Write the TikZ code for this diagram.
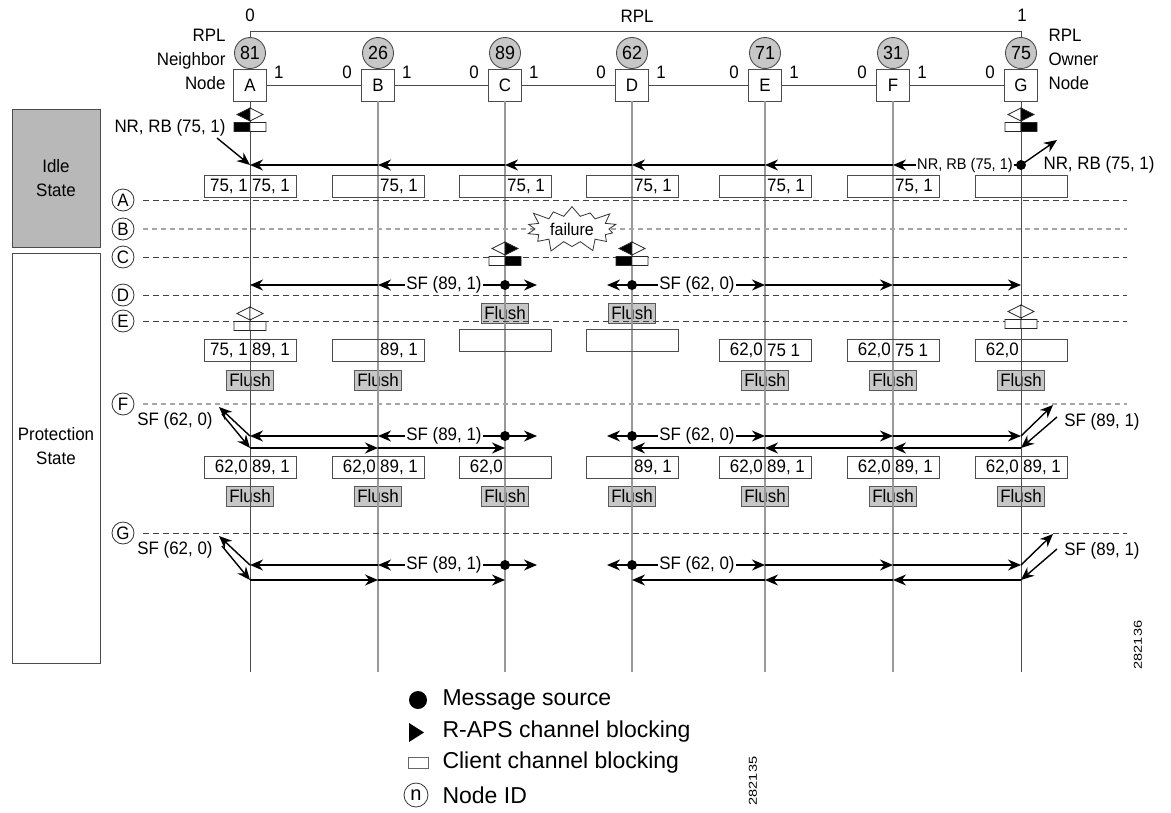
\documentclass[tikz,border=0pt]{standalone}
\usepackage{fontspec}
\setmainfont{Liberation Sans}[FakeStretch=0.94]
\newfontfamily\legendfont{Liberation Sans}
\usetikzlibrary{arrows.meta,calc,shapes.symbols}
\pgfdeclarelayer{bg}\pgfsetlayers{bg,main}
\newcommand\statecell[5]{\node[cell](#1)at(#2 |- 0,#3){};\node[celltxt,anchor=east](#1l)at(#1.center){#4};\node[celltxt,anchor=west](#1r)at(#1.center){#5};}
\newcommand\blocksym[3]{\begin{scope}[shift={(#1)}]
\filldraw[blk,fill=#2](-16,-4.5)rectangle(0,4.5)(0,-19)--(-13,-12.5)--(0,-6)--cycle;
\filldraw[blk,fill=#3](0,-4.5)rectangle(16,4.5)(0,-19)--(13,-12.5)--(0,-6)--cycle;
\end{scope}}
\begin{document}
\begin{tikzpicture}[x=1pt,y=-1pt,font=\fontsize{18}{20}\selectfont,
ring/.style={draw=black!70,line width=.9pt,fill=white,minimum width=33pt,minimum height=32pt,inner sep=0pt},
nid/.style={circle,draw=black!70,line width=.9pt,fill=black!22,minimum size=31pt,inner sep=0pt,font=\fontsize{19}{19}\selectfont},
wire/.style={draw=black!70,line width=.9pt},
lanedk/.style={draw=black!70,line width=1pt},
lanelt/.style={draw=black!40,line width=2pt},
stage/.style={draw=black!75,line width=.8pt,dash pattern=on 6pt off 4pt},
stagelt/.style={draw=black!35,line width=2pt,dash pattern=on 5pt off 4pt},
stepmark/.style={circle,draw=black!80,line width=.8pt,minimum size=22pt,inner sep=0pt,font=\fontsize{18}{18}\selectfont},
msg/.style={-{Stealth[length=13pt,width=11pt]},line width=1.4pt},
src/.style={circle,fill=black,inner sep=0pt,minimum size=10pt},
cell/.style={draw=black!70,line width=.8pt,minimum width=92pt,minimum height=22pt,inner sep=0pt},
celltxt/.style={inner sep=2pt},
flushbox/.style={draw=black!65,fill=black!22,line width=.8pt,inner sep=3pt,minimum height=20pt},
lbl/.style={fill=white,inner sep=1pt},
blk/.style={draw=black!85,line width=.7pt}]
\useasboundingbox(0,0)rectangle(1171,812);
\foreach \n/\x/\id/\ls in {A/250/81/lanedk,B/378/26/lanelt,C/505/89/lanelt,D/632/62/lanelt,E/765/71/lanelt,F/893/31/lanelt,G/1021/75/lanedk}{
\node[ring](\n)at(\x,85){\n};\node[nid](id\n)at(\x,53){\id};
\coordinate(\n-end)at(\x,672);\draw[\ls](\n.south)--(\n-end);}
\foreach \a/\b in {A/B,B/C,C/D,D/E,E/F,F/G}\draw[wire](\a.east)--(\b.west);
\foreach \n in {A,...,F}\node(p1\n)at([shift={(12,-13)}]\n.east){1};
\foreach \n in {B,...,G}\node(p0\n)at([shift={(-14,-13)}]\n.west){0};
\draw[wire](idA.north)--++(0,-6)-|(idG.north);
\node(rpl0)at(250,15){0};\node(rpl1)at(1022,15){1};\node(rpl)at(637,16){RPL};
\node[align=right,anchor=east,font=\fontsize{18}{24}\selectfont](nbr)at(229,59){RPL\\Neighbor\\Node};
\node[align=left,anchor=west,font=\fontsize{18}{24}\selectfont](own)at(1045,59){RPL\\Owner\\Node};
\node[draw=black!70,line width=.9pt,fill=black!28,minimum width=88pt,minimum height=138pt](idle)at(56,178){};
\node[align=center,font=\fontsize{18}{24}\selectfont](idletxt)at(idle){Idle\\State};
\node[draw=black!70,line width=.9pt,minimum width=88pt,minimum height=410pt](prot)at(56,458){};
\node[align=center,font=\fontsize{18}{24}\selectfont](prottxt)at(56,446){Protection\\State};
\foreach \s/\y/\st in {A/200/stage,B/229/stagelt,C/257/stage,D/295/stage,E/321/stage,F/404/stagelt,G/533/stage}{
\node[stepmark](s\s)at(123,\y){\s};\coordinate(t\s)at(1127,\y);\draw[\st]([xshift=9pt]s\s.east)--(t\s);}
\foreach \n in {A,...,G}\foreach \r/\y in {i/165,d/285,fu/436,fl/448,gu/565,gl/580}\coordinate(\n-\r)at(\n |- 0,\y);
\begin{pgfonlayer}{bg}
\foreach \n in {C,D}\node[flushbox](fl1\n)at(\n |- 0,313){Flush};
\foreach \n in {A,B,E,F,G}\node[flushbox](fl2\n)at(\n |- 0,380){Flush};
\foreach \n in {A,...,G}\node[flushbox](fl3\n)at(\n |- 0,496){Flush};
\end{pgfonlayer}
\statecell{cA1}{A}{186.5}{75, 1}{75, 1}\statecell{cB1}{B}{186.5}{}{75, 1}\statecell{cC1}{C}{186.5}{}{75, 1}
\statecell{cD1}{D}{186.5}{}{75, 1}\statecell{cE1}{E}{186.5}{}{75, 1}\statecell{cF1}{F}{186.5}{}{75, 1}\statecell{cG1}{G}{186.5}{}{}
\statecell{cA2}{A}{350}{75, 1}{89, 1}\statecell{cB2}{B}{350}{}{89, 1}\statecell{cC2}{C}{340.5}{}{}\statecell{cD2}{D}{340.5}{}{}
\statecell{cE2}{E}{350}{62,0}{75 1}\statecell{cF2}{F}{350}{62,0}{75 1}\statecell{cG2}{G}{350}{62,0}{}
\statecell{cA3}{A}{467.5}{62,0}{89, 1}\statecell{cB3}{B}{467.5}{62,0}{89, 1}\statecell{cC3}{C}{467.5}{62,0}{}\statecell{cD3}{D}{467.5}{}{89, 1}
\statecell{cE3}{E}{467.5}{62,0}{89, 1}\statecell{cF3}{F}{467.5}{62,0}{89, 1}\statecell{cG3}{G}{467.5}{62,0}{89, 1}
\blocksym{250,127}{black}{white}\blocksym{1021,127}{white}{black}
\blocksym{505,261}{white}{black}\blocksym{632,261}{black}{white}
\blocksym{250,326}{white}{white}\blocksym{1021,324}{white}{white}
\node[starburst,draw=black!80,fill=white,line width=.8pt,minimum width=100pt,minimum height=52pt,starburst points=14,starburst point height=13pt,inner sep=0pt,font=\fontsize{17}{17}\selectfont](fail)at(572,229){failure};
\foreach \a/\b in {G/F,F/E,E/D,D/C,C/B,B/A}\draw[msg](\a-i)--(\b-i);
\node[lbl,font=\fontsize{15.5}{16}\selectfont](rbF)at(965,165){NR, RB (75, 1)};
\node[src](srcG)at(G-i){};
\coordinate(G-io)at(1057,140);\draw[msg](G-i)--(G-io);
\node(rbG)at(1099,165){NR, RB (75, 1)};
\node(rbA)at(170,128){NR, RB (75, 1)};
\coordinate(A-ii)at(217,138);\draw[msg](A-ii)--(A-i);
\foreach \a/\b in {C/B,B/A,D/E,E/F,F/G}\draw[msg](\a-d)--(\b-d);
\coordinate(C-d-x)at(537,285);\coordinate(D-d-x)at(607,285);
\draw[msg](C-d)--(C-d-x);\draw[msg](D-d)--(D-d-x);
\node[src](sCd)at(C-d){};\node[src](sDd)at(D-d){};
\node[lbl](sfCd)at(444,285){SF (89, 1)};\node[lbl](sfDd)at(697,285){SF (62, 0)};
\foreach \u/\l in {fu/fl,gu/gl}{
\foreach \a/\b in {C/B,B/A,D/E,E/F,F/G}\draw[msg](\a-\u)--(\b-\u);
\foreach \a/\b in {A/B,B/C,G/F,F/E,E/D}\draw[msg](\a-\l)--(\b-\l);
\coordinate(C-\u-x)at([xshift=32pt]C-\u);\coordinate(D-\u-x)at([xshift=-25pt]D-\u);
\draw[msg](C-\u)--(C-\u-x);\draw[msg](D-\u)--(D-\u-x);
\node[src](sC\u)at(C-\u){};\node[src](sD\u)at(D-\u){};
\node[lbl](sfC\u)at([xshift=-61pt]C-\u){SF (89, 1)};\node[lbl](sfD\u)at([xshift=65pt]D-\u){SF (62, 0)};
\coordinate(A-\u-o)at([shift={(-31,-29)}]A-\u);\coordinate(A-\l-n)at([shift={(-28,-34)}]A-\l);
\coordinate(G-\u-o)at([shift={(32,-31)}]G-\u);\coordinate(G-\l-n)at([shift={(36,-31)}]G-\l);
\draw[msg](A-\u)--(A-\u-o);\draw[msg](A-\l-n)--(A-\l);
\draw[msg](G-\u)--(G-\u-o);\draw[msg](G-\l-n)--(G-\l);
\node(sfA\u)at([shift={(-75,-15)}]A-\u){SF (62, 0)};\node(sfG\u)at([shift={(81,-14)}]G-\u){SF (89, 1)};}
\begin{scope}[font=\legendfont\fontsize{23}{23}\selectfont]
\node[src,minimum size=18pt](lgsrc)at(418,700){};\node[anchor=west](lgt1)at(439,700){Message source};
\fill(409,723)--(424,732.5)--(409,742)--cycle;\node[anchor=west](lgt2)at(439,732){R-APS channel blocking};
\node[draw=black!60,line width=.8pt,minimum width=20pt,minimum height=11pt,inner sep=0pt](lgcl)at(418,763){};\node[anchor=west](lgt3)at(439,763){Client channel blocking};
\node[circle,draw=black!80,line width=.8pt,minimum size=24pt,inner sep=0pt,font=\legendfont\fontsize{20}{20}\selectfont](lgid)at(416,795){n};\node[anchor=west](lgt4)at(439,795){Node ID};
\end{scope}
\node[rotate=90,font=\fontsize{11.5}{12}\selectfont](num1)at(1138,645){\scalebox{1.35}[1]{282136}};
\node[rotate=90,font=\fontsize{11.5}{12}\selectfont](num2)at(753,781){\scalebox{1.35}[1]{282135}};
\end{tikzpicture}
\end{document}
